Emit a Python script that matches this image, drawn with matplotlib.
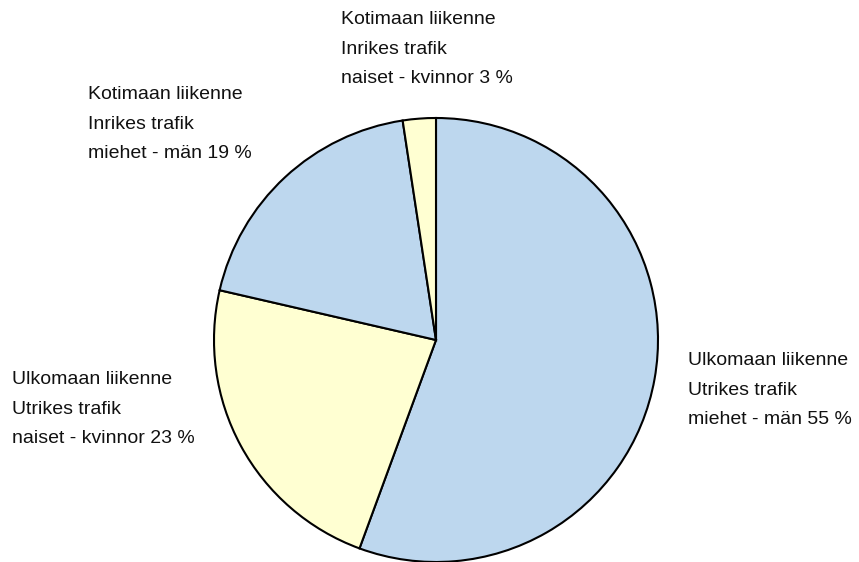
import matplotlib.pyplot as plt

# osuudet (%), luettu kuvasta
labels = [
    "Ulkomaan liikenne\nUtrikes trafik\nmiehet - män 55 %",
    "Ulkomaan liikenne\nUtrikes trafik\nnaiset - kvinnor 23 %",
    "Kotimaan liikenne\nInrikes trafik\nmiehet - män 19 %",
    "Kotimaan liikenne\nInrikes trafik\nnaiset - kvinnor 3 %",
]
values = [55.6, 23.0, 19.0, 2.4]
colors = ["#BDD7EE", "#FFFFD2", "#BDD7EE", "#FFFFD2"]

W, H = 859, 562
fig = plt.figure(figsize=(W / 100, H / 100), dpi=100)
ax = fig.add_axes([0, 0, 1, 1])

ax.pie(values, colors=colors, startangle=90, counterclock=False,
       center=(436, H - 340), radius=222, frame=True,
       wedgeprops=dict(edgecolor="black", linewidth=1.5))
ax.set_xlim(0, W)
ax.set_ylim(0, H)
ax.set_aspect("equal")
ax.axis("off")

# tekstien paikat (px, vasen yläkulma)
pos = [(688, 352), (12, 371), (88, 86), (341, 11)]
for (x, y), txt in zip(pos, labels):
    ax.text(x, H - y, txt, ha="left", va="top", fontsize=14,
            family=["Liberation Sans"], linespacing=1.97, color="#111111")

fig.savefig("out.png", dpi=100)
